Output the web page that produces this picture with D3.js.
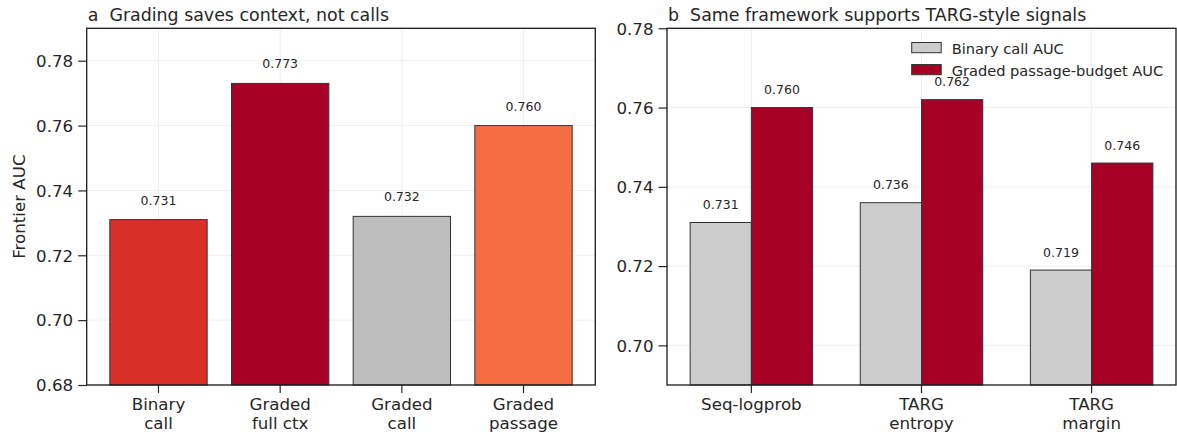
<!DOCTYPE html>
<html>
<head>
<meta charset="utf-8">
<script src="https://cdn.jsdelivr.net/npm/d3@7"></script>
<style>
  html, body { margin: 0; padding: 0; background: #fff; }
  svg { display: block; font-family: "DejaVu Sans", sans-serif; }
  .title { white-space: pre; }
</style>
</head>
<body>
<svg id="chart" width="1177" height="438"></svg>
<script>
// ---------- data ----------
const catsA = ["Binary\ncall", "Graded\nfull ctx", "Graded\ncall", "Graded\npassage"];
const valuesA = [0.731, 0.773, 0.732, 0.760];
const colorsA = ["#d73027", "#a50026", "#bdbdbd", "#f46d43"];
const ticksA = [0.68, 0.70, 0.72, 0.74, 0.76, 0.78];
const titleA = "a  Grading saves context, not calls";
const yLabelA = "Frontier AUC";

const catsB = ["Seq-logprob", "TARG\nentropy", "TARG\nmargin"];
const seriesB = ["Binary call AUC", "Graded passage-budget AUC"];
const binaryB = [0.731, 0.736, 0.719];
const gradedB = [0.760, 0.762, 0.746];
const colorsB = ["#cccccc", "#a50026"];
const ticksB = [0.70, 0.72, 0.74, 0.76, 0.78];
const titleB = "b  Same framework supports TARG-style signals";

// ---------- layout ----------
const svg = d3.select("#chart");
const TXT = "#262626";
const TICK_FS = 16.67;
const panelA = {x0: 86.7, x1: 595.3, y0: 28.3, y1: 385};
const panelB = {x0: 667, x1: 1176, y0: 28.3, y1: 385};

function styleAxis(g) {
  g.selectAll(".domain").remove();
  g.selectAll(".tick line").attr("stroke", TXT).attr("stroke-width", 1.2);
  g.selectAll(".tick text").attr("fill", TXT).attr("font-size", TICK_FS)
    .attr("font-family", "DejaVu Sans, sans-serif");
}

function multiline(g) {
  g.selectAll(".tick text").each(function(d) {
    const t = d3.select(this);
    const lines = String(d).split("\n");
    t.text(null);
    lines.forEach((ln, i) => {
      t.append("tspan").attr("x", 0).attr("dy", i === 0 ? "0.71em" : "1.17em").text(ln);
    });
  });
}

function frame(p) {
  svg.append("rect").attr("x", p.x0).attr("y", p.y0)
    .attr("width", p.x1 - p.x0).attr("height", p.y1 - p.y0)
    .attr("fill", "none").attr("stroke", "#1a1a1a").attr("stroke-width", 1.3);
}

// ---------- panel a ----------
{
  const x = d3.scaleBand().domain(catsA).range([panelA.x0, panelA.x1])
    .paddingInner(0.2).paddingOuter(0.19);
  const y = d3.scaleLinear().domain([0.68, 0.79]).range([panelA.y1, panelA.y0]);

  const grid = svg.append("g");
  ticksA.forEach(t => grid.append("line").attr("x1", panelA.x0).attr("x2", panelA.x1)
    .attr("y1", y(t)).attr("y2", y(t)).attr("stroke", "#efefef").attr("stroke-width", 1));
  catsA.forEach(c => grid.append("line").attr("y1", panelA.y0).attr("y2", panelA.y1)
    .attr("x1", x(c) + x.bandwidth() / 2).attr("x2", x(c) + x.bandwidth() / 2)
    .attr("stroke", "#efefef").attr("stroke-width", 1));

  svg.append("g").selectAll("rect").data(catsA).join("rect")
    .attr("x", d => x(d)).attr("width", x.bandwidth())
    .attr("y", (d, i) => y(valuesA[i])).attr("height", (d, i) => y(0.68) - y(valuesA[i]))
    .attr("fill", (d, i) => colorsA[i]).attr("stroke", "#333").attr("stroke-width", 1);

  svg.append("g").selectAll("text").data(catsA).join("text")
    .attr("x", d => x(d) + x.bandwidth() / 2)
    .attr("y", (d, i) => y(valuesA[i]) - 15)
    .attr("text-anchor", "middle").attr("font-size", 12.5).attr("fill", TXT)
    .text((d, i) => valuesA[i].toFixed(3));

  const ya = svg.append("g").attr("transform", `translate(${panelA.x0},0)`)
    .call(d3.axisLeft(y).tickValues(ticksA).tickFormat(d3.format(".2f")).tickSize(8.5).tickPadding(5));
  styleAxis(ya);
  ya.selectAll(".tick text").attr("dy", "0.35em");

  const xa = svg.append("g").attr("transform", `translate(0,${panelA.y1})`)
    .call(d3.axisBottom(x).tickSize(8).tickPadding(5));
  styleAxis(xa);
  multiline(xa);

  frame(panelA);

  svg.append("text").attr("class", "title").attr("xml:space", "preserve")
    .attr("x", panelA.x0 + 1).attr("y", 20.5)
    .attr("font-size", 17.4).attr("fill", TXT).text(titleA);
  svg.append("text").attr("transform", `translate(24.5,${(panelA.y0 + panelA.y1) / 2}) rotate(-90)`)
    .attr("text-anchor", "middle").attr("font-size", TICK_FS).attr("fill", TXT).text(yLabelA);
}

// ---------- panel b ----------
{
  const x0 = d3.scaleBand().domain(catsB).range([panelB.x0, panelB.x1])
    .paddingInner(0.28).paddingOuter(0.136);
  const x1 = d3.scaleBand().domain(seriesB).range([0, x0.bandwidth()]);
  const y = d3.scaleLinear().domain([0.69, 0.78]).range([panelB.y1, panelB.y0]);
  const color = d3.scaleOrdinal().domain(seriesB).range(colorsB);

  const grid = svg.append("g");
  ticksB.forEach(t => grid.append("line").attr("x1", panelB.x0).attr("x2", panelB.x1)
    .attr("y1", y(t)).attr("y2", y(t)).attr("stroke", "#efefef").attr("stroke-width", 1));
  catsB.forEach(c => grid.append("line").attr("y1", panelB.y0).attr("y2", panelB.y1)
    .attr("x1", x0(c) + x0.bandwidth() / 2).attr("x2", x0(c) + x0.bandwidth() / 2)
    .attr("stroke", "#efefef").attr("stroke-width", 1));

  const rows = [];
  catsB.forEach((c, i) => {
    rows.push({cat: c, s: seriesB[0], v: binaryB[i]});
    rows.push({cat: c, s: seriesB[1], v: gradedB[i]});
  });

  svg.append("g").selectAll("rect").data(rows).join("rect")
    .attr("x", d => x0(d.cat) + x1(d.s)).attr("width", x1.bandwidth())
    .attr("y", d => y(d.v)).attr("height", d => y(0.69) - y(d.v))
    .attr("fill", d => color(d.s)).attr("stroke", "#333").attr("stroke-width", 1);

  const ya = svg.append("g").attr("transform", `translate(${panelB.x0},0)`)
    .call(d3.axisLeft(y).tickValues(ticksB).tickFormat(d3.format(".2f")).tickSize(8.5).tickPadding(5));
  styleAxis(ya);
  ya.selectAll(".tick text").attr("dy", "0.35em");

  const xa = svg.append("g").attr("transform", `translate(0,${panelB.y1})`)
    .call(d3.axisBottom(x0).tickSize(8).tickPadding(5));
  styleAxis(xa);
  multiline(xa);

  frame(panelB);

  // legend
  const lg = svg.append("g").attr("transform", `translate(911.7,42.5)`);
  seriesB.forEach((s, i) => {
    lg.append("rect").attr("x", 0).attr("y", i * 22).attr("width", 29.5).attr("height", 10.2)
      .attr("fill", color(s)).attr("stroke", "#333").attr("stroke-width", 1);
    lg.append("text").attr("x", 40).attr("y", i * 22 + 11.3)
      .attr("font-size", 14.6).attr("fill", TXT).text(s);
  });

  svg.append("g").selectAll("text").data(rows).join("text")
    .attr("x", d => x0(d.cat) + x1(d.s) + x1.bandwidth() / 2)
    .attr("y", d => y(d.v) - 13.5)
    .attr("text-anchor", "middle").attr("font-size", 12.5).attr("fill", TXT)
    .text(d => d.v.toFixed(3));

  svg.append("text").attr("class", "title").attr("xml:space", "preserve")
    .attr("x", panelB.x0 + 1).attr("y", 20.5)
    .attr("font-size", 17.4).attr("fill", TXT).text(titleB);
}
</script>
</body>
</html>
